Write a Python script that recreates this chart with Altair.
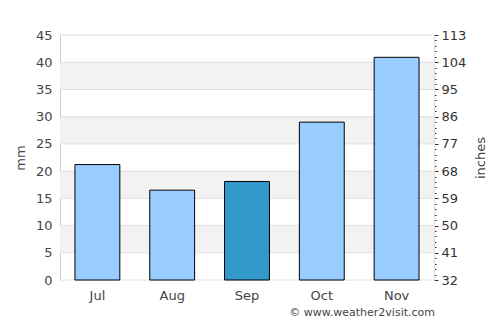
import altair as alt
import pandas as pd

months = ["Jul", "Aug", "Sep", "Oct", "Nov"]
rain_mm = [21.2, 16.5, 18.1, 29.0, 40.9]
highlight = [False, False, True, False, False]
band_lo = [5, 15, 25, 35]
band_hi = [10, 20, 30, 40]
grid_vals = [0, 5, 10, 15, 20, 25, 30, 35, 40, 45]
left_ticks = [0, 5, 10, 15, 20, 25, 30, 35, 40, 45]
right_labels = [32, 41, 50, 59, 68, 77, 86, 95, 104, 113]
right_minor = list(range(0, 46))

FONT = "DejaVu Sans"
W, H = 374, 245

bars_df = pd.DataFrame({"month": months, "mm": rain_mm, "hl": highlight})
bands_df = pd.DataFrame({"lo": band_lo, "hi": band_hi})
grid_df = pd.DataFrame({"g": grid_vals})

yscale = alt.Scale(domain=[0, 45], nice=False, zero=True)

bands = alt.Chart(bands_df).mark_rect(color="#f2f2f2").encode(
    x=alt.value(0), x2=alt.value(W),
    y=alt.Y("lo:Q", scale=yscale, axis=alt.Axis(
        orient="right", title="inches", values=right_minor,
        labelExpr="datum.value % 5 === 0 ? '' + " + str(right_labels) + "[datum.value/5] : ''",
        tickSize={"condition": {"test": "datum.value % 5 === 0", "value": 4}, "value": 2},
        tickColor="#333", domainColor="#ddd", grid=False, labelOverlap=False,
        labelPadding=3, labelFont=FONT, labelFontSize=13, labelColor="#333",
        titleFont=FONT, titleFontSize=13, titleFontWeight="normal", titleColor="#444",
        titleAngle=270, titlePadding=22)),
    y2="hi:Q",
)

grid = alt.Chart(grid_df).mark_rule(color="#e0e0e0", strokeWidth=1).encode(
    y=alt.Y("g:Q", scale=yscale, axis=None),
)

bars = alt.Chart(bars_df).mark_bar(stroke="black", strokeWidth=1).encode(
    x=alt.X("month:N", sort=months, scale=alt.Scale(paddingInner=0.4, paddingOuter=0.2),
            axis=alt.Axis(title=None, labelAngle=0, ticks=False, domain=False,
                          labelPadding=9, labelFont=FONT, labelFontSize=13, labelColor="#444")),
    y=alt.Y("mm:Q", scale=yscale, axis=alt.Axis(
        orient="left", title="mm", values=left_ticks, ticks=False, grid=False,
        domainColor="#ccc", labelPadding=8, labelFont=FONT, labelFontSize=13,
        labelColor="#444", labelOverlap=False,
        titleFont=FONT, titleFontSize=13, titleFontWeight="normal", titleColor="#444",
        titlePadding=8)),
    color=alt.Color("hl:N", scale=alt.Scale(domain=[False, True], range=["#99ccff", "#3399cc"]), legend=None),
)

credit = alt.Chart(pd.DataFrame({"t": ["© www.weather2visit.com"]})).mark_text(
    align="right", baseline="middle", font=FONT, fontSize=11, color="#444"
).encode(text="t:N", x=alt.value(375), y=alt.value(278))

chart = alt.layer(bands, grid, bars, credit).resolve_scale(y="independent").properties(
    width=W, height=H,
    autosize=alt.AutoSizeParams(type="none"),
    padding={"left": 60, "top": 35, "right": 500 - 60 - W, "bottom": 325 - 35 - H},
).configure_view(stroke=None)

chart.save("out.html", embed_options={"renderer": "svg", "actions": False})
